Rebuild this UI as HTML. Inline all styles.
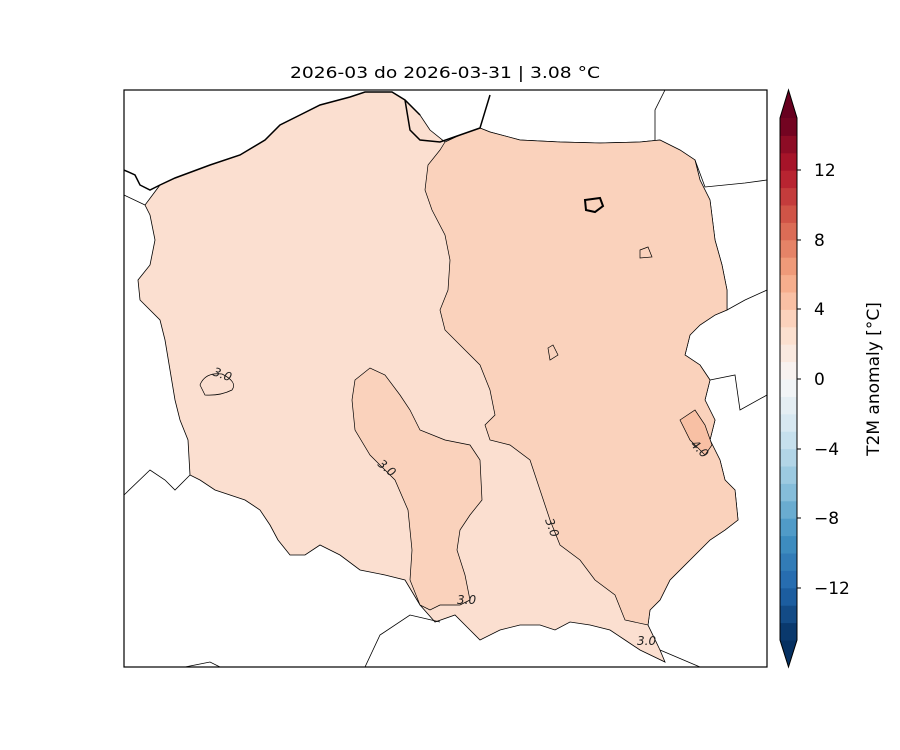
<!DOCTYPE html>
<html><head><meta charset="utf-8"><style>
body{margin:0;background:#fff}
svg{display:block;font-family:"Liberation Sans","DejaVu Sans",sans-serif}
</style></head><body>
<svg width="900" height="750" viewBox="0 0 900 750">
<rect width="900" height="750" fill="#fff"/>
<text x="445" y="78" font-size="16" text-anchor="middle" font-family="DejaVu Sans,sans-serif" textLength="310" lengthAdjust="spacingAndGlyphs">2026-03 do 2026-03-31 | 3.08 °C</text>
<clipPath id="c"><rect x="124" y="90" width="643" height="577"/></clipPath>
<g clip-path="url(#c)">
<polygon fill="#fbdfd0" stroke="#000" stroke-width="0.8" points="160,185 175,178 210,165 240,155 265,140 280,125 300,115 320,105 350,97 365,92 392,92 405,100 420,115 430,130 445,142 460,135 480,128 490,132 520,140 560,142 600,143 640,142 660,140 680,150 695,160 700,180 710,200 715,240 722,265 727,290 727,310 715,315 700,325 690,335 685,355 700,365 710,380 705,400 715,420 710,440 720,460 725,480 735,490 738,520 725,530 710,540 690,560 670,580 660,600 650,610 648,625 660,650 665,662 640,650 625,640 610,630 590,625 570,622 555,630 540,625 520,625 500,630 480,640 470,630 455,615 435,622 420,605 405,580 385,575 360,570 340,555 320,545 305,555 290,555 278,540 270,525 260,510 245,500 230,495 215,490 200,480 190,475 188,440 180,420 175,400 170,370 165,340 160,320 140,300 138,280 150,265 155,240 150,215 145,205"/>
<polygon fill="#fad2bc" stroke="#000" stroke-width="0.7" points="445,142 440,150 428,165 425,190 432,210 445,235 450,260 448,290 440,310 445,330 465,350 480,365 490,390 495,415 485,425 490,440 510,445 530,460 540,490 550,520 560,545 580,560 595,580 615,595 625,620 648,625 650,610 660,600 670,580 690,560 710,540 725,530 738,520 735,490 725,480 720,460 710,440 715,420 705,400 710,380 700,365 685,355 690,335 700,325 715,315 727,310 727,290 722,265 715,240 710,200 700,180 695,160 680,150 660,140 640,142 600,143 560,142 520,140 490,132 480,128 460,135"/>
<polygon fill="#fad2bc" stroke="#000" stroke-width="0.7" points="355,380 370,368 385,375 400,395 410,410 420,430 445,440 470,445 480,460 482,500 470,515 460,530 457,550 465,575 470,600 460,605 440,605 430,610 420,605 410,580 412,550 408,510 395,480 370,455 355,430 352,400"/>
<polygon fill="#f8c0a4" stroke="#000" stroke-width="0.7" points="680,420 695,410 705,425 712,445 705,455 690,440"/>
<path d="M200,385 Q205,372 222,374 Q238,382 232,390 Q220,396 205,395 Z" fill="none" stroke="#000" stroke-width="0.7"/>
<path d="M640,250 L648,247 L652,257 L640,258 Z M548,348 L553,345 L558,355 L550,360 Z" fill="none" stroke="#000" stroke-width="0.7"/>
<path d="M585,200 L600,198 L603,206 L595,212 L586,210 Z" fill="none" stroke="#000" stroke-width="2"/>
<path d="M124,170 L135,175 L140,185 L150,190 L160,185 L175,178 L210,165 L240,155 L265,140 L280,125 L300,115 L320,105 L350,97 L365,92 L392,92 L405,100 L420,115 M405,100 L410,130 L420,140 L440,142 L460,135 L480,128 L490,95" fill="none" stroke="#000" stroke-width="1.5"/>
<path d="M124,195 L145,205 M124,495 L150,470 L165,480 L175,490 L190,475 M665,90 L655,110 L655,140 M695,160 L705,187 L745,183 L767,180 M727,310 L745,300 L767,290 M710,380 L735,375 L740,410 L767,395 M365,667 L380,635 L410,615 L440,622 M660,650 L700,667 M185,667 L210,662 L220,667" fill="none" stroke="#000" stroke-width="0.8"/>
</g>
<g font-size="12" font-style="italic" font-family="DejaVu Sans,sans-serif" fill="#222">
<text x="212" y="375" transform="rotate(20 212 375)">3.0</text>
<text x="377" y="465" transform="rotate(40 377 465)">3.0</text>
<text x="545" y="520" transform="rotate(70 545 520)">3.0</text>
<text x="457" y="604">3.0</text>
<text x="637" y="645">3.0</text>
<text x="690" y="445" transform="rotate(45 690 445)">4.0</text>
</g>
<rect x="124" y="90" width="643" height="577" fill="none" stroke="#000" stroke-width="1.2"/>
<g>
<polygon points="780,118 788.5,90 797,118" fill="#67001f"/>
<polygon points="780,640 788.5,667 797,640" fill="#053061"/>
</g>
<g id="cb"></g>
<g stroke="#000" stroke-width="1">
<line x1="797" y1="170" x2="801" y2="170"/><line x1="797" y1="240" x2="801" y2="240"/><line x1="797" y1="309" x2="801" y2="309"/><line x1="797" y1="379" x2="801" y2="379"/><line x1="797" y1="449" x2="801" y2="449"/><line x1="797" y1="518" x2="801" y2="518"/><line x1="797" y1="588" x2="801" y2="588"/>
</g>
<polygon points="780,118 788.5,90 797,118 797,640 788.5,667 780,640" fill="none" stroke="#000" stroke-width="1"/>
<g font-size="17" font-family="DejaVu Sans,sans-serif">
<text x="814" y="176">12</text><text x="814" y="246">8</text><text x="814" y="315">4</text><text x="814" y="385">0</text><text x="814" y="455">−4</text><text x="814" y="524">−8</text><text x="814" y="594">−12</text>
</g>
<text x="879" y="379" font-size="17" font-family="DejaVu Sans,sans-serif" text-anchor="middle" transform="rotate(-90 879 379)">T2M anomaly [°C]</text>
</svg>
<script>
var c=["#0a396d","#134b86","#1c5d9f","#276db0","#327cb7","#3d8cbf","#509bc8","#6aacd0","#85bdda","#9ccae1","#b2d5e7","#c6e0ed","#d7e8f1","#e4eef3","#f1f4f6","#f8f2ef","#fae9df","#fce0cf","#fcd2bc","#f9c0a4","#f6ae8d","#ef9a79","#e58367","#db6c56","#d05447","#c43c3c","#b82431","#a61429","#8d0c25","#730421"];
var g=document.getElementById("cb"),s="",h=522/30;
for(var i=0;i<30;i++){var y=640-(i+1)*h;s+='<rect x="780" y="'+y+'" width="17" height="'+(h+0.5)+'" fill="'+c[i]+'"/>';}
g.innerHTML=s;
</script>
</body></html>
